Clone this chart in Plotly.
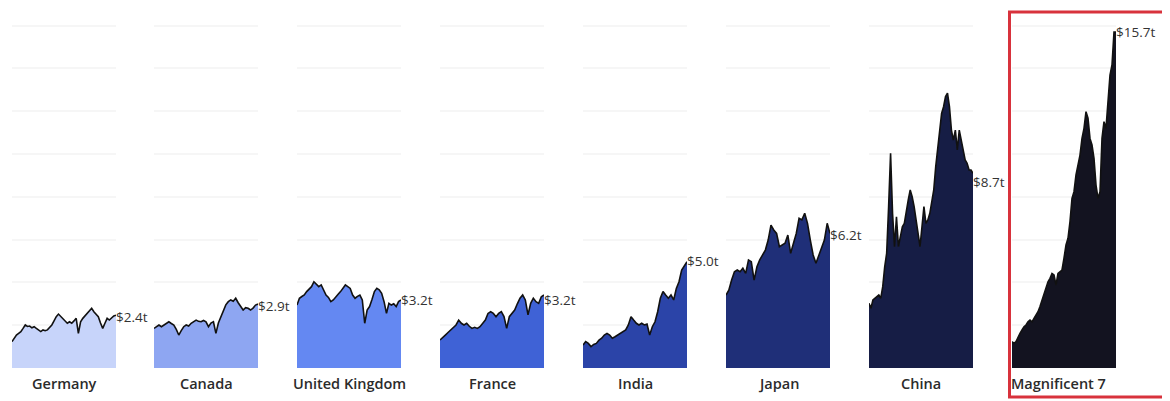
import plotly.graph_objects as go

# ---------------- data ($ trillions) ----------------
categories = ["Germany", "Canada", "United Kingdom", "France", "India", "Japan", "China", "Magnificent 7"]
end_labels = [2.4, 2.9, 3.2, 3.2, 5.0, 6.2, 8.7, 15.7]

germany = [1.23, 1.40, 1.54, 1.62, 1.70, 1.85, 2.01, 1.94, 1.96, 1.88, 1.93, 1.85, 1.78, 1.70, 1.78, 1.74,
           1.78, 1.90, 2.01, 2.20, 2.40, 2.52, 2.40, 2.32, 2.20, 2.09, 2.16, 2.09, 2.20, 2.32, 1.62,
           2.16, 2.32, 2.45, 2.55, 2.70, 2.79, 2.63, 2.50, 2.40, 2.10, 1.85, 2.09, 2.32, 2.24, 2.36, 2.43, 2.47]
canada = [1.85, 1.95, 2.01, 1.93, 2.00, 2.09, 2.16, 2.08, 2.01, 1.80, 1.54, 1.75, 1.93, 2.01, 1.96, 2.09,
          2.16, 2.24, 2.18, 2.16, 2.22, 2.16, 1.93, 2.10, 2.16, 1.62, 2.10, 2.40, 2.71, 2.95, 3.10, 3.18,
          3.12, 3.26, 3.05, 2.87, 2.71, 2.82, 2.79, 2.71, 2.80, 2.94, 2.99]
uk = [2.94, 3.26, 3.34, 3.41, 3.57, 3.70, 3.80, 4.03, 3.92, 3.80, 3.88, 3.64, 3.41, 3.30, 3.10, 3.18, 3.33,
      3.45, 3.57, 3.72, 3.88, 3.80, 3.72, 3.41, 3.26, 3.35, 3.41, 3.18, 2.09, 2.71, 2.87, 3.20, 3.57, 3.72,
      3.65, 3.49, 3.10, 2.55, 3.02, 2.94, 3.00, 2.87, 3.10, 3.18]
france = [1.31, 1.45, 1.54, 1.66, 1.78, 1.90, 2.01, 2.24, 2.09, 2.01, 2.09, 1.95, 1.85, 1.90, 1.85, 1.93,
          2.10, 2.24, 2.55, 2.63, 2.55, 2.40, 2.55, 2.63, 2.40, 1.85, 2.40, 2.55, 2.71, 3.00, 3.26, 3.41,
          3.18, 2.48, 3.02, 3.26, 3.10, 3.02, 3.33, 3.41]
india = [1.07, 1.23, 1.15, 1.00, 1.10, 1.15, 1.30, 1.39, 1.54, 1.62, 1.54, 1.39, 1.46, 1.54, 1.62, 1.70,
         1.78, 2.01, 2.40, 2.24, 2.09, 2.01, 2.09, 2.01, 2.05, 1.54, 1.93, 2.16, 2.63, 3.26, 3.57, 3.41,
         3.26, 3.41, 3.18, 3.72, 4.03, 4.58, 4.81, 4.97]
japan = [3.41, 3.64, 4.11, 4.50, 4.58, 4.50, 4.66, 4.42, 5.05, 4.97, 4.11, 4.73, 5.05, 5.28, 5.51, 5.98,
         6.68, 6.45, 6.29, 5.67, 5.75, 5.83, 6.21, 5.36, 5.83, 6.29, 7.00, 6.92, 7.23, 6.76, 5.98, 5.28,
         4.89, 5.28, 5.67, 5.98, 6.76, 6.29]
china = [3.02, 2.79, 3.18, 3.26, 3.33, 3.41, 3.26, 3.80, 4.73, 5.36, 7.54, 10.03, 7.23, 5.67, 7.07, 5.67,
         6.14, 6.60, 6.76, 7.38, 7.85, 8.32, 8.00, 7.54, 6.92, 6.14, 5.67, 6.60, 7.54, 6.76, 6.92, 7.23,
         7.85, 8.32, 9.41, 10.34, 11.12, 11.90, 12.21, 12.68, 12.84, 12.21, 11.12, 10.65, 11.12, 10.19,
         11.12, 10.65, 10.03, 9.72, 9.57, 9.25, 9.25, 9.10]
mag7 = [1.23, 1.15, 1.23, 1.46, 1.62, 1.78, 1.93, 2.01, 2.16, 2.24, 2.16, 2.32, 2.48, 2.63, 2.87, 3.18,
        3.41, 3.72, 4.03, 4.19, 4.42, 4.35, 3.88, 4.42, 4.50, 4.58, 5.13, 5.75, 6.06, 6.84, 7.93, 8.24,
        9.02, 9.49, 9.95, 10.73, 11.20, 11.98, 11.67, 10.73, 10.42, 9.80, 8.55, 7.93, 8.24, 10.73, 11.51,
        11.20, 12.29, 13.69, 14.16, 15.70, 15.70]

series = [germany, canada, uk, france, india, japan, china, mag7]
fill_colors = ["#c7d4fa", "#8ea6f2", "#6488f2", "#3f62d6", "#2b44a8", "#1f2f78", "#161d45", "#131320"]
grid_values = [2, 4, 6, 8, 10, 12, 14, 16]

# ---------------- layout geometry (screen pixels; page has an 8px body margin) ----------------
OFF = 8
W, H = 1170 - OFF, 401 - OFF
panel_left = [12, 154, 297, 440, 583, 726, 869, 1012]
panel_w = 104
base_px = 368          # baseline screen row
px_per_t = 21.4
y_top_val = 16.3
top_px = base_px - y_top_val * px_per_t


def fx(p):
    return (p - OFF) / W


def fy(p):
    return 1 - (p - OFF) / H


fig = go.Figure()
layout_axes = {}
annotations = []

for i, (name, vals, col, lab) in enumerate(zip(categories, series, fill_colors, end_labels)):
    k = "" if i == 0 else str(i + 1)
    xs = list(range(len(vals)))
    fig.add_trace(go.Scatter(
        x=xs, y=vals, mode="lines", fill="tozeroy",
        fillcolor=col, line=dict(color="#111111", width=1.6),
        xaxis="x" + k, yaxis="y" + k, hoverinfo="skip", showlegend=False,
    ))
    layout_axes["xaxis" + k] = dict(
        domain=[fx(panel_left[i]), fx(panel_left[i] + panel_w)], range=[0, len(vals) - 1], anchor="y" + k,
        showgrid=False, zeroline=False, showticklabels=False, showline=False, fixedrange=True,
    )
    layout_axes["yaxis" + k] = dict(
        domain=[fy(base_px), fy(top_px)], range=[0, y_top_val], anchor="x" + k,
        tickvals=grid_values, showticklabels=False, showgrid=True, gridcolor="#f6f6f6",
        gridwidth=1.5, zeroline=False, showline=False, fixedrange=True,
    )
    annotations.append(dict(
        x=len(vals) - 1, y=lab, xref="x" + k, yref="y" + k,
        text=f"${lab:.1f}t", showarrow=False, xanchor="left", yanchor="middle", xshift=-2,
        font=dict(family="Open Sans", size=13.5, color="#333333"),
    ))
    last = i == len(categories) - 1
    annotations.append(dict(
        x=fx(panel_left[i] + (0 if last else panel_w / 2)), y=fy(383),
        xref="paper", yref="paper", text=name, showarrow=False,
        xanchor="left" if last else "center", yanchor="middle", xshift=-3 if last else 0,
        font=dict(family="Open Sans", size=14.5, color="#2b2b2b", weight=600),
    ))

fig.update_layout(
    width=W, height=H, margin=dict(l=0, r=0, t=0, b=0),
    paper_bgcolor="white", plot_bgcolor="white",
    annotations=annotations,
    shapes=[dict(type="rect", xref="paper", yref="paper",
                 x0=fx(1009.5), x1=fx(1166.5), y0=fy(397), y1=fy(12),
                 line=dict(color="#d8323c", width=3), fillcolor="rgba(0,0,0,0)", layer="above")],
    **layout_axes,
)

fig.write_html("out.html")
